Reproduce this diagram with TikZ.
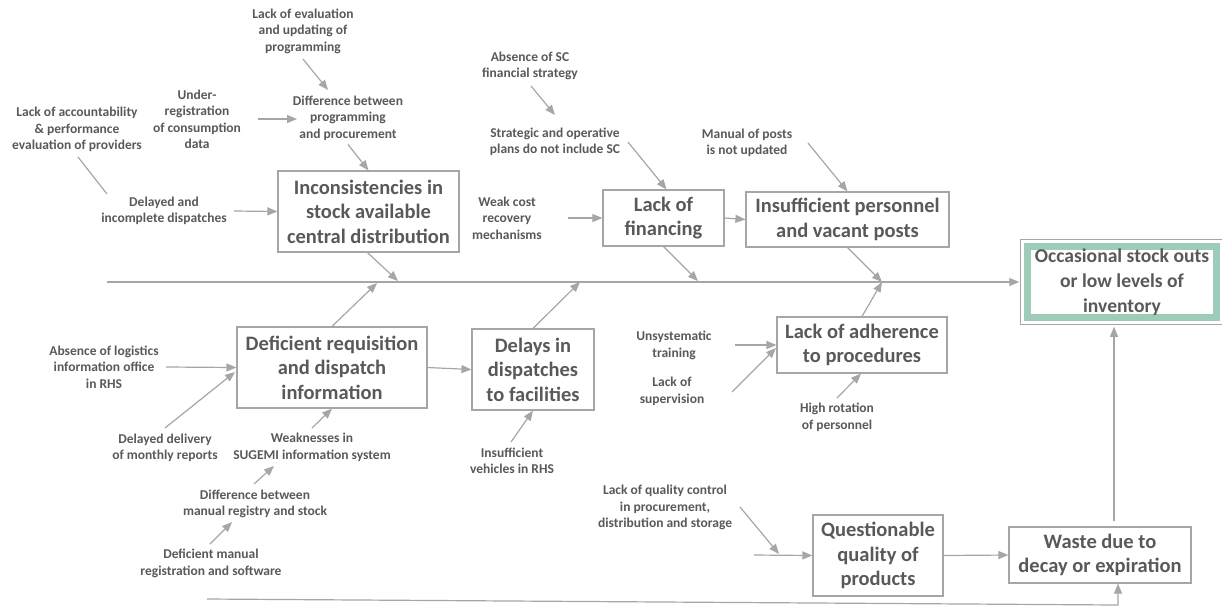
\documentclass[tikz,border=0pt]{standalone}
\usepackage{fontspec}
\setmainfont{Carlito}
\usetikzlibrary{arrows.meta}
\definecolor{txt}{HTML}{595959}
\definecolor{ln}{HTML}{A6A6A6}
\definecolor{grn}{HTML}{9DCDB8}
\tikzset{
  lbl/.style={font=\bfseries\fontsize{13.5}{16.5}\selectfont, text=txt, align=center, inner sep=0pt},
  bx/.style={draw=ln, line width=1.2pt, font=\bfseries\fontsize{20.5}{24.5}\selectfont, text=txt, align=center, inner sep=0pt},
  mainbx/.style={draw=grn, line width=6.5pt, font=\bfseries\fontsize{19.6}{25}\selectfont, text=txt, align=center, inner sep=0pt},
  arr/.style={draw=ln, line width=1.2pt, -{Triangle[length=10pt,width=8pt]}},
  plain/.style={draw=ln, line width=1.2pt}
}
\begin{document}
\begin{tikzpicture}[x=1pt,y=-1pt]
\useasboundingbox (0,0) rectangle (1222,606);

% boxes
\node[bx, minimum width=181, minimum height=81] (inc) at (368.5,211.5) {Inconsistencies in\\stock available\\central distribution};
\node[bx, minimum width=121, minimum height=56] (fin) at (663.5,218) {Lack of\\financing};
\node[bx, minimum width=203, minimum height=55] (pers) at (847.5,219.5) {Insufficient personnel\\and vacant posts};
\node[bx, minimum width=190, minimum height=81] (req) at (332,367.5) {Deficient requisition\\and dispatch\\information};
\node[bx, minimum width=122, minimum height=81] (del) at (533,369.5) {Delays in\\dispatches\\to facilities};
\node[bx, minimum width=170, minimum height=56] (adh) at (862,345) {Lack of adherence\\to procedures};
\node[bx, minimum width=130, minimum height=81] (qual) at (878,555.5) {Questionable\\quality of\\products};
\node[bx, minimum width=182, minimum height=56] (waste) at (1100,555) {Waste due to\\decay or expiration};
\node[mainbx, minimum width=189, minimum height=71] (main) at (1122,282) {Occasional stock outs\\or low levels of\\inventory};
\draw[ln, line width=0.8pt] ([shift={(-3.6,-3.6)}]main.north west) rectangle ([shift={(3.6,3.6)}]main.south east);

% labels
\node[lbl] (l1) at (303,31) {Lack of evaluation\\and updating of\\programming};
\node[lbl] (l2) at (348,118) {Difference between\\programming\\and procurement};
\node[lbl] (l3) at (197,119.5) {Under-\\registration\\of consumption\\data};
\node[lbl] (l4) at (77,129.5) {Lack of accountability\\\& performance\\evaluation of providers};
\node[lbl] (l5) at (164,211) {Delayed and\\incomplete dispatches};
\node[lbl] (l6) at (530,66) {Absence of SC\\financial strategy};
\node[lbl] (l7) at (555,142) {Strategic and operative\\plans do not include SC};
\node[lbl] (l8) at (507,218) {Weak cost\\recovery\\mechanisms};
\node[lbl] (l9) at (747,143) {Manual of posts\\is not updated};
\node[lbl] (l10) at (104,367) {Absence of logistics\\information office\\in RHS};
\node[lbl] (l11) at (165,448) {Delayed delivery\\of monthly reports};
\node[lbl] (l12) at (312,447.5) {Weaknesses in\\SUGEMI information system};
\node[lbl] (l13) at (255,504) {Difference between\\manual registry and stock};
\node[lbl] (l14) at (211,563.5) {Deficient manual\\registration and software};
\node[lbl] (l15) at (512,461) {Insufficient\\vehicles in RHS};
\node[lbl] (l16) at (674,345.5) {Unsystematic\\training};
\node[lbl] (l17) at (672,391.5) {Lack of\\supervision};
\node[lbl] (l18) at (837,417.5) {High rotation\\of personnel};
\node[lbl] (l19) at (665,507.5) {Lack of quality control\\in procurement,\\distribution and storage};

% free-end coordinates
\coordinate (s0) at (107,282);
\coordinate (j1) at (398,281);
\coordinate (j2) at (377,283);
\coordinate (j3) at (580,282);
\coordinate (j4) at (698,281);
\coordinate (j5) at (882,282);
\coordinate (a1s) at (303,59);   \coordinate (a1e) at (328,90);
\coordinate (a3s) at (258,119);  \coordinate (a3e) at (297,119);
\coordinate (a4s) at (78,157);   \coordinate (a4e) at (107,194);
\coordinate (a5s) at (234,211);
\coordinate (a7s) at (531,86);   \coordinate (a7e) at (555,115);
\coordinate (a8s) at (628,142);
\coordinate (a9s) at (568,218);
\coordinate (a11s) at (808,143);
\coordinate (a17s) at (166,367);
\coordinate (a18s) at (165,428);  \coordinate (a18e) at (235,372);
\coordinate (a19s) at (312,428);
\coordinate (a20s) at (254,484);  \coordinate (a20e) at (274,466);
\coordinate (a21s) at (210,544);  \coordinate (a21e) at (232,522);
\coordinate (a23s) at (511,442);
\coordinate (a24s) at (735,345);
\coordinate (a25s) at (732,392);  \coordinate (a25e) at (776,348);
\coordinate (a26s) at (837,398);
\coordinate (a28s) at (740,507);  \coordinate (a28e) at (779,554);
\coordinate (a29s) at (754,555);
\coordinate (b0) at (207,599);
\coordinate (b1) at (1118,605);

% spine
\draw[arr, shorten >=5pt] (s0) -- (main.west);

% top-left branch
\draw[arr] (a1s) -- (a1e);
\draw[arr] (l2.south) ++(0,4) -- (inc.north);
\draw[arr] (a3s) -- (a3e);
\draw[plain] (a4s) -- (a4e);
\draw[arr] (a5s) -- (inc.west);
\draw[arr] ([xshift=-1]inc.south) -- (j1);

% top-middle branch
\draw[arr] (a7s) -- (a7e);
\draw[arr] (a8s) -- ([xshift=3]fin.north);
\draw[arr] (a9s) -- (fin.west);
\draw[arr] (fin.east) -- (pers.west);
\draw[arr] (a11s) -- (pers.north);
\draw[arr] (fin.south) -- (j4);
\draw[arr] (pers.south) -- (j5);

% bottom-left branch
\draw[arr] (req.north) -- (j2);
\draw[arr] (del.north) -- (j3);
\draw[arr] (a17s) -- (req.west);
\draw[arr] (a18s) -- (a18e);
\draw[arr] (a19s) -- (req.south);
\draw[arr] (a20s) -- (a20e);
\draw[arr] (a21s) -- (a21e);
\draw[arr] (req.east) -- (del.west);
\draw[arr] (a23s) -- (del.south);

% adherence
\draw[arr] (adh.north) -- (j5);
\draw[arr] (a24s) -- (adh.west);
\draw[arr] (a25s) -- (a25e);
\draw[arr] (a26s) -- ([xshift=-1]adh.south);

% quality / waste
\draw[arr] (a28s) -- (a28e);
\draw[arr] (a29s) -- (qual.west);
\draw[arr] (qual.east) -- (waste.west);
\draw[arr, shorten <=5pt, shorten >=6pt] ([xshift=14]waste.north) -- ([xshift=-8]main.south);
\draw[arr] (b0) -- (b1) -- (b1 |- waste.south);
\end{tikzpicture}
\end{document}
